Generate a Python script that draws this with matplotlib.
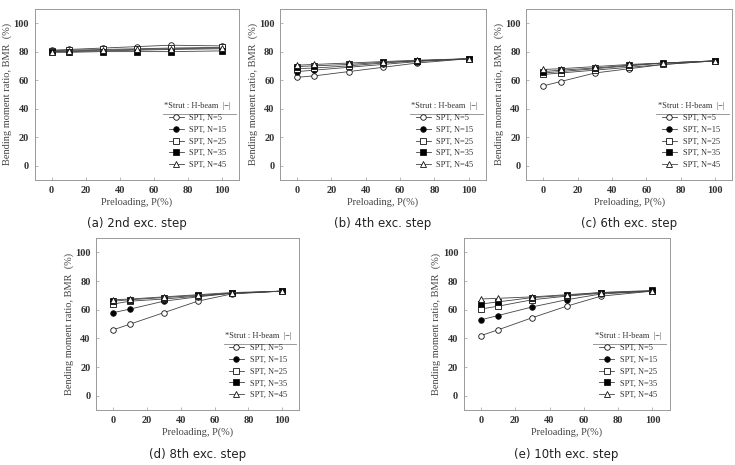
import matplotlib.pyplot as plt
from matplotlib.lines import Line2D

# Preloading levels (%)
preload = [0, 10, 30, 50, 70, 100]
labels = ["SPT, N=5", "SPT, N=15", "SPT, N=25", "SPT, N=35", "SPT, N=45"]

# BMR (%), one list per SPT N value
bmr_2nd = [
    [81, 81.5, 82.5, 83.5, 84.5, 84],
    [80, 80, 80.5, 81, 81.5, 82],
    [80.5, 81, 81.5, 82, 82.5, 83],
    [79.5, 79.5, 80, 80, 80, 80.5],
    [80, 80.5, 81, 81.5, 82, 82.5],
]
bmr_4th = [
    [62, 63, 66, 69, 72, 75],
    [66, 67, 69, 71, 73, 75],
    [68, 68.5, 70, 72, 73.5, 75],
    [69.5, 70, 71, 72.5, 73.5, 75],
    [70.5, 71, 72, 73, 74, 75],
]
bmr_6th = [
    [56, 59, 65, 68, 71, 73.5],
    [65, 66, 68, 70, 72, 73.5],
    [64, 65, 67, 69, 71, 73.5],
    [66, 67, 68.5, 70.5, 72, 73.5],
    [67.5, 68, 69.5, 71, 72, 73.5],
]
bmr_8th = [
    [46, 50, 58, 66, 71, 73],
    [58, 60.5, 66, 69, 71.5, 73],
    [64, 66, 67.5, 69.5, 71.5, 73],
    [66, 67, 68.5, 70, 71.5, 73],
    [67, 67.5, 69, 70.5, 72, 73],
]
bmr_10th = [
    [42, 46, 54.5, 62.5, 69.5, 73],
    [53, 56, 62, 67, 71, 73],
    [60.5, 62.5, 67, 69.5, 71.5, 73],
    [64, 65.5, 68.5, 70, 72, 73.5],
    [67.5, 68, 69, 70.5, 72, 73],
]
captions = ["(a) 2nd exc. step", "(b) 4th exc. step", "(c) 6th exc. step",
            "(d) 8th exc. step", "(e) 10th exc. step"]
panels = [bmr_2nd, bmr_4th, bmr_6th, bmr_8th, bmr_10th]

markers = ["o", "o", "s", "s", "^"]
facecolors = ["white", "black", "white", "black", "white"]

# axes boxes in figure fractions
boxes = [
    [0.047, 0.613, 0.278, 0.368],
    [0.381, 0.613, 0.280, 0.368],
    [0.716, 0.613, 0.280, 0.368],
    [0.131, 0.118, 0.276, 0.370],
    [0.631, 0.118, 0.280, 0.370],
]

serif = "Liberation Serif"
fig = plt.figure(figsize=(7.35, 4.65), dpi=100)

for box, data, cap in zip(boxes, panels, captions):
    ax = fig.add_axes(box)
    for vals, m, fc, lab in zip(data, markers, facecolors, labels):
        ax.plot(preload, vals, color="#444444", lw=0.6, marker=m, ms=4,
                mfc=fc, mec="#111111", mew=0.6, label=lab)
    ax.set_xlim(-10, 110)
    ax.set_ylim(-10, 110)
    ax.set_xticks([0, 20, 40, 60, 80, 100])
    ax.set_yticks([0, 20, 40, 60, 80, 100])
    ax.tick_params(direction="in", length=2, width=0.5, colors="#999999",
                   labelcolor="#333333", labelsize=7.5, pad=4)
    for t in ax.get_xticklabels() + ax.get_yticklabels():
        t.set_fontfamily(serif)
        t.set_fontweight("bold")
    for s in ax.spines.values():
        s.set_color("#999999")
        s.set_linewidth(0.7)
    ax.set_xlabel("Preloading, P(%)", fontfamily=serif, fontsize=7.5,
                  color="#444444", labelpad=2)
    ax.set_ylabel("Bending moment ratio, BMR  (%)", fontfamily=serif,
                  fontsize=7.5, color="#444444", labelpad=1)
    leg = ax.legend(loc="lower right", bbox_to_anchor=(0.99, 0.03),
                    frameon=False, title="*Strut : H-beam  |−|",
                    prop={"family": serif, "size": 6}, handlelength=1.8,
                    labelspacing=0.45, handletextpad=0.7, borderpad=0.2)
    leg.get_title().set_fontfamily(serif)
    leg.get_title().set_fontsize(6)
    leg.get_title().set_color("#333333")
    for t in leg.get_texts():
        t.set_color("#333333")
    # rule under the legend title
    ax.add_line(Line2D([0.63, 0.985], [0.385, 0.385], transform=ax.transAxes,
                       color="#888888", lw=0.6))
    ax.text(0.5, -0.255, cap, transform=ax.transAxes, ha="center", va="center",
            fontsize=8.5, color="#222222", family="DejaVu Sans")

fig.savefig("out.png", dpi=100)
